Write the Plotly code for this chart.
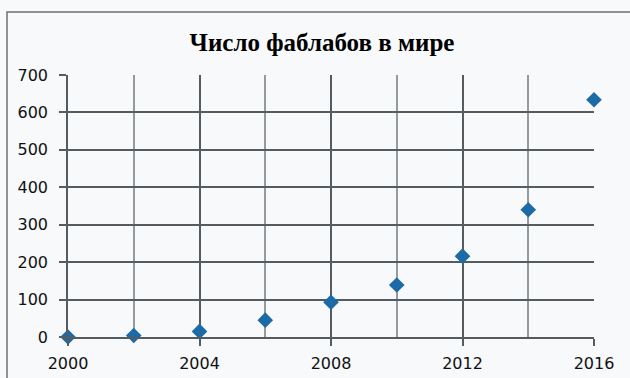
import plotly.graph_objects as go

years = [2000, 2002, 2004, 2006, 2008, 2010, 2012, 2014, 2016]
fablabs = [0, 4, 15, 45, 93, 139, 216, 340, 634]
title_text = "Число фаблабов в мире"

L, R, T, B = 68, 36, 75, 41
W, H = 630, 378
pw, ph = W - L - R, H - T - B

fig = go.Figure(go.Scatter(
    x=years, y=fablabs, mode="markers",
    marker=dict(symbol="diamond", size=12, color="#1c6aa6"),
    cliponaxis=False,
))

bg = "#f7f9fb"
fig.update_layout(
    width=W, height=H,
    margin=dict(l=L, r=R, t=T, b=B),
    paper_bgcolor=bg, plot_bgcolor=bg,
    showlegend=False,
    title=dict(text="<b>" + title_text + "</b>", x=(322) / W, xanchor="center",
               y=1 - 42 / H, yanchor="middle",
               font=dict(family="Liberation Serif", size=25, color="#000")),
    font=dict(family="DejaVu Sans", size=16, color="#111"),
)
fig.update_xaxes(
    range=[2000, 2016], tick0=2000, dtick=4,
    showgrid=True, gridcolor="#555b5e", gridwidth=1.5,
    minor=dict(tick0=2000, dtick=2, showgrid=True, gridcolor="#959b9d", gridwidth=1.5),
    ticks="outside", ticklen=7, tickcolor="#555b5e", tickwidth=1.5,
    showline=True, linecolor="#555b5e", linewidth=1.5,
    zeroline=False, ticklabelstandoff=4, automargin=False,
)
fig.update_yaxes(
    range=[0, 700], tick0=0, dtick=100,
    showgrid=True, gridcolor="#555b5e", gridwidth=1.5,
    ticks="outside", ticklen=7, tickcolor="#555b5e", tickwidth=1.5,
    showline=True, linecolor="#555b5e", linewidth=1.5,
    zeroline=False, ticklabelstandoff=8, automargin=False,
)

# outer chart border
fig.add_shape(type="rect", xref="paper", yref="paper",
              x0=(7 - L) / pw, x1=(640 - L) / pw,
              y0=(H - B - 390) / ph, y1=(H - B - 12) / ph,
              line=dict(color="#6d7275", width=1.5), layer="below")

fig.write_html("out.html")
